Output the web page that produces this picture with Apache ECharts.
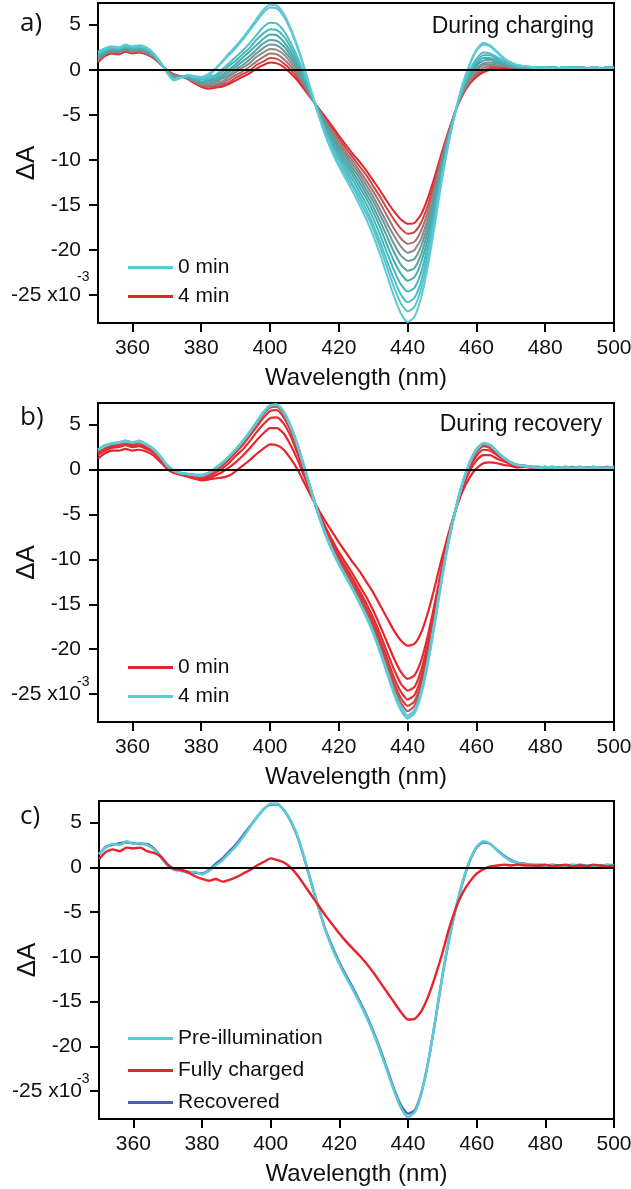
<!DOCTYPE html>
<html>
<head>
<meta charset="utf-8">
<script src="https://cdn.jsdelivr.net/npm/echarts@6/dist/echarts.min.js"></script>
<style>
  html, body { margin: 0; padding: 0; background: #fff; }
  #chart { width: 631px; height: 1189px; }
</style>
</head>
<body>
<div id="chart"></div>
<script>
// Wavelength grid (nm), shared by every spectrum
const wavelength = [350,352,354,356,358,360,362,364,366,368,370,372,374,376,378,380,382,384,386,388,
  390,392,394,396,398,400,402,404,406,408,410,412,414,416,418,420,422,424,426,428,
  430,432,434,436,438,440,442,444,446,448,450,452,454,456,458,460,462,464,466,468,
  470,472,474,476,478,480,482,484,486,488,490,492,494,496,498,500];

const xTicks = [360, 380, 400, 420, 440, 460, 480, 500];
const yTicks = [-25, -20, -15, -10, -5, 0, 5];

// a) difference spectra (x10^-3) recorded while charging, 0 min -> 4 min
const chg0 = [2.0,2.4,2.6,2.5,2.8,2.6,2.7,2.5,1.9,0.9, -0.3,-1.2,-0.9,-0.6,-0.7,-0.8,-0.5,0.1,0.9,1.8,
  2.6,3.5,4.5,5.6,6.6,7.2,7.1,6.2,4.6,2.6, 0.2,-2.4,-4.9,-7.2,-9.1,-10.7,-12.1,-13.5,-15.0,-16.6,
  -18.4,-20.5,-22.8,-25.1,-27.0,-28.0,-27.4,-25.2,-21.6,-17.0, -12.2,-8.0,-4.5,-1.6,0.6,2.2,3.0,2.7,2.0,1.3,
  0.8,0.5,0.4,0.3, 0.2,0.3,0.1,0.2,0.3,0.1,0.2,0.1,0.3,0.2,0.1,0.2];
const chg1 = [1.9,2.3,2.5,2.4,2.7,2.5,2.6,2.4,1.8,0.9, -0.3,-1.1,-0.9,-0.6,-0.8,-0.9,-0.7,0.0,0.8,1.6,
  2.4,3.3,4.3,5.3,6.3,6.9,6.8,5.9,4.4,2.4, 0.1,-2.4,-4.8,-7.0,-8.8,-10.3,-11.7,-13.0,-14.5,-16.0,
  -17.7,-19.7,-21.9,-24.1,-25.9,-26.8,-26.3,-24.2,-20.8,-16.4, -11.9,-7.9,-4.5,-1.7,0.5,2.1,2.8,2.6,1.9,1.2,
  0.8,0.5,0.4,0.3, 0.3,0.2,0.2,0.1,0.2,0.3,0.1,0.2,0.2,0.1,0.3,0.2];
const chg2 = [1.8,2.2,2.4,2.3,2.6,2.4,2.5,2.3,1.8,0.9, -0.2,-1.1,-0.9,-0.7,-0.9,-1.0,-0.8,-0.6,0.0,0.7,
  1.4,2.1,2.9,3.8,4.7,5.2,5.1,4.3,3.0,1.4, -0.6,-2.7,-4.8,-6.8,-8.5,-10.0,-11.3,-12.7,-14.0,-15.5,
  -17.2,-19.1,-21.2,-23.2,-24.9,-25.8,-25.3,-23.4,-20.1,-15.9, -11.6,-7.7,-4.5,-2.0,-0.1,1.2,1.9,1.8,1.4,1.0,
  0.6,0.4,0.3,0.2, 0.1,0.2,0.3,0.2,0.1,0.2,0.3,0.2,0.1,0.2,0.2,0.3];
const chg3 = [1.6,2.1,2.4,2.3,2.6,2.4,2.5,2.3,1.7,0.8, -0.2,-1.0,-0.8,-0.7,-1.0,-1.1,-1.0,-0.8,-0.3,0.4,
  1.0,1.7,2.4,3.3,4.0,4.5,4.4,3.7,2.5,1.0, -0.8,-2.7,-4.7,-6.6,-8.2,-9.6,-10.9,-12.2,-13.5,-14.9,
  -16.5,-18.3,-20.3,-22.2,-23.8,-24.6,-24.2,-22.4,-19.3,-15.4, -11.2,-7.6,-4.5,-2.1,-0.3,0.9,1.6,1.6,1.2,0.8,
  0.6,0.3,0.3,0.2, 0.2,0.3,0.1,0.2,0.3,0.1,0.2,0.1,0.3,0.2,0.1,0.2];
const chg4 = [1.5,2.0,2.3,2.2,2.5,2.3,2.4,2.2,1.6,0.8, -0.2,-0.9,-0.8,-0.8,-1.0,-1.3,-1.2,-1.0,-0.6,0.0,
  0.6,1.3,2.0,2.7,3.4,3.9,3.8,3.1,2.0,0.6, -1.1,-2.8,-4.6,-6.4,-7.9,-9.3,-10.5,-11.7,-13.0,-14.3,
  -15.8,-17.5,-19.4,-21.2,-22.6,-23.4,-23.0,-21.3,-18.5,-14.8, -10.9,-7.5,-4.5,-2.2,-0.5,0.6,1.3,1.3,1.0,0.7,
  0.5,0.3,0.3,0.2, 0.3,0.2,0.2,0.1,0.2,0.3,0.1,0.2,0.2,0.1,0.3,0.2];
const chg5 = [1.4,1.9,2.2,2.1,2.4,2.2,2.3,2.1,1.6,0.8, -0.1,-0.8,-0.8,-0.8,-1.1,-1.4,-1.3,-1.2,-0.8,-0.3,
  0.3,0.9,1.5,2.2,2.9,3.3,3.2,2.6,1.6,0.3, -1.3,-2.9,-4.5,-6.2,-7.6,-8.9,-10.1,-11.3,-12.5,-13.8,
  -15.2,-16.8,-18.5,-20.2,-21.6,-22.3,-22.0,-20.4,-17.7,-14.2, -10.6,-7.3,-4.5,-2.3,-0.7,0.4,1.0,1.1,0.8,0.6,
  0.4,0.3,0.3,0.2, 0.1,0.2,0.3,0.2,0.1,0.2,0.3,0.2,0.1,0.2,0.2,0.3];
const chg6 = [1.3,1.8,2.1,2.0,2.3,2.1,2.2,2.0,1.5,0.8, -0.1,-0.8,-0.8,-0.9,-1.2,-1.5,-1.5,-1.4,-1.0,-0.6,
  0.0,0.5,1.1,1.8,2.4,2.8,2.7,2.1,1.2,0.0, -1.5,-3.0,-4.5,-6.0,-7.3,-8.6,-9.7,-10.9,-12.0,-13.3,
  -14.6,-16.1,-17.7,-19.3,-20.6,-21.2,-21.0,-19.5,-17.0,-13.7, -10.3,-7.2,-4.5,-2.4,-0.9,0.1,0.7,0.8,0.7,0.5,
  0.4,0.2,0.3,0.2, 0.2,0.3,0.1,0.2,0.3,0.1,0.2,0.1,0.3,0.2,0.1,0.2];
const chg7 = [1.2,1.8,2.0,1.9,2.2,2.0,2.1,1.9,1.5,0.8, -0.1,-0.7,-0.8,-0.9,-1.3,-1.6,-1.6,-1.5,-1.3,-0.8,
  -0.3,0.2,0.7,1.4,1.9,2.3,2.2,1.7,0.8,-0.3, -1.7,-3.0,-4.4,-5.8,-7.0,-8.3,-9.4,-10.5,-11.6,-12.8,
  -14.1,-15.5,-17.0,-18.4,-19.6,-20.3,-20.0,-18.7,-16.3,-13.2, -10.0,-7.1,-4.5,-2.5,-1.1,-0.1,0.5,0.6,0.5,0.4,
  0.3,0.2,0.2,0.2, 0.3,0.2,0.2,0.1,0.2,0.3,0.1,0.2,0.2,0.1,0.3,0.2];
const chg8 = [1.0,1.7,2.0,1.9,2.2,2.0,2.1,1.9,1.4,0.7, -0.1,-0.6,-0.7,-0.9,-1.3,-1.7,-1.8,-1.7,-1.5,-1.1,
  -0.6,-0.2,0.3,0.9,1.4,1.8,1.7,1.2,0.4,-0.6, -1.8,-3.1,-4.3,-5.6,-6.8,-8.0,-9.1,-10.1,-11.2,-12.3,
  -13.5,-14.8,-16.2,-17.6,-18.7,-19.3,-19.1,-17.8,-15.6,-12.8, -9.7,-7.0,-4.5,-2.6,-1.3,-0.4,0.2,0.4,0.4,0.4,
  0.3,0.2,0.2,0.1, 0.1,0.2,0.3,0.2,0.1,0.2,0.3,0.2,0.1,0.2,0.2,0.3];
const chg9 = [0.9,1.6,1.9,1.8,2.1,1.9,2.0,1.8,1.4,0.7, 0.0,-0.6,-0.7,-1.0,-1.4,-1.8,-1.9,-1.9,-1.7,-1.4,
  -0.9,-0.5,-0.1,0.5,0.9,1.3,1.2,0.7,0.0,-0.9, -2.0,-3.1,-4.3,-5.4,-6.5,-7.6,-8.7,-9.7,-10.7,-11.7,
  -12.9,-14.1,-15.4,-16.6,-17.6,-18.2,-18.0,-16.9,-14.9,-12.2, -9.4,-6.8,-4.5,-2.7,-1.5,-0.6,-0.1,0.2,0.2,0.3,
  0.2,0.1,0.2,0.1, 0.2,0.3,0.1,0.2,0.3,0.1,0.2,0.1,0.3,0.2,0.1,0.2];
const chg10 = [0.8,1.5,1.8,1.7,2.0,1.8,1.9,1.7,1.3,0.7, 0.0,-0.5,-0.7,-1.0,-1.5,-1.9,-2.1,-2.0,-1.9,-1.6,
  -1.2,-0.8,-0.4,0.1,0.5,0.8,0.7,0.3,-0.4,-1.2, -2.2,-3.2,-4.2,-5.2,-6.2,-7.3,-8.3,-9.3,-10.2,-11.2,
  -12.3,-13.4,-14.6,-15.7,-16.6,-17.1,-17.0,-16.0,-14.1,-11.7, -9.1,-6.7,-4.5,-2.8,-1.6,-0.8,-0.3,0.0,0.1,0.2,
  0.2,0.1,0.2,0.1, 0.3,0.2,0.2,0.1,0.2,0.3,0.1,0.2,0.2,0.1,0.3,0.2];
const chargingTimes = ['0 min','0.4 min','0.8 min','1.2 min','1.6 min','2 min','2.4 min','2.8 min','3.2 min','3.6 min','4 min'];
const chargingColors = ['#5ccad6','#57c5cf','#4fbec5','#47b6bb','#43adaf','#52a3a4','#6b9797','#8b8a8a','#a67070','#c74848','#e8232b'];

// b) difference spectra recorded during recovery, 0 min -> 4 min
const rec0 = [1.2,1.8,2.1,2.1,2.3,2.1,2.2,2.0,1.6,0.9, 0.1,-0.4,-0.6,-0.8,-1.0,-1.1,-1.1,-1.0,-0.9,-0.7,
  -0.2,0.4,1.0,1.7,2.3,2.8,2.7,2.2,1.2,0.0, -1.5,-3.0,-4.4,-5.7,-6.9,-8.1,-9.2,-10.3,-11.3,-12.5,
  -13.7,-15.1,-16.5,-17.9,-19.0,-19.6,-19.4,-18.1,-15.8,-12.9, -9.8,-7.0,-4.5,-2.4,-0.9,0.1,0.7,0.8,0.7,0.5,
  0.4,0.2,0.3,0.2, 0.1,0.2,0.3,0.2,0.1,0.2,0.3,0.2,0.1,0.2,0.2,0.3];
const rec1 = [1.6,2.1,2.4,2.5,2.7,2.5,2.6,2.3,1.9,1.2, 0.3,-0.3,-0.5,-0.7,-1.0,-1.2,-1.1,-0.7,-0.3,0.2,
  0.8,1.5,2.3,3.2,4.0,4.6,4.6,4.0,2.7,1.1, -0.8,-2.7,-4.6,-6.3,-7.8,-9.2,-10.4,-11.6,-12.9,-14.2,
  -15.7,-17.4,-19.2,-21.0,-22.5,-23.3,-22.9,-21.2,-18.3,-14.7, -10.8,-7.3,-4.4,-2.0,-0.2,1.0,1.6,1.6,1.2,0.9,
  0.6,0.3,0.3,0.2, 0.2,0.3,0.1,0.2,0.3,0.1,0.2,0.1,0.3,0.2,0.1,0.2];
const rec2 = [1.8,2.3,2.6,2.6,2.8,2.6,2.7,2.5,2.0,1.3, 0.3,-0.2,-0.5,-0.6,-0.9,-1.1,-0.9,-0.4,0.1,0.7,
  1.5,2.2,3.1,4.1,5.0,5.7,5.8,5.1,3.7,1.8, -0.3,-2.6,-4.7,-6.6,-8.1,-9.6,-10.9,-12.1,-13.5,-14.9,
  -16.5,-18.3,-20.3,-22.2,-23.8,-24.6,-24.2,-22.3,-19.2,-15.3, -11.2,-7.5,-4.4,-1.8,0.2,1.5,2.2,2.1,1.6,1.1,
  0.7,0.4,0.4,0.3, 0.3,0.2,0.2,0.1,0.2,0.3,0.1,0.2,0.2,0.1,0.3,0.2];
const rec3 = [1.9,2.4,2.7,2.7,3.0,2.8,2.9,2.6,2.1,1.3, 0.4,-0.2,-0.5,-0.6,-0.8,-0.9,-0.7,-0.1,0.4,1.1,
  1.9,2.7,3.7,4.7,5.7,6.5,6.6,5.8,4.3,2.3, 0.0,-2.5,-4.8,-6.7,-8.4,-9.9,-11.2,-12.5,-13.9,-15.4,
  -17.0,-18.9,-21.0,-23.1,-24.7,-25.6,-25.1,-23.1,-19.9,-15.8, -11.4,-7.6,-4.4,-1.6,0.5,1.9,2.6,2.4,1.8,1.2,
  0.7,0.5,0.4,0.3, 0.1,0.2,0.3,0.2,0.1,0.2,0.3,0.2,0.1,0.2,0.2,0.3];
const rec4 = [2.0,2.5,2.8,2.8,3.1,2.9,3.0,2.7,2.2,1.4, 0.4,-0.2,-0.4,-0.6,-0.7,-0.8,-0.6,0.0,0.6,1.3,
  2.1,3.0,4.0,5.1,6.1,6.9,7.0,6.2,4.6,2.6, 0.1,-2.4,-4.8,-6.9,-8.6,-10.1,-11.4,-12.8,-14.2,-15.7,
  -17.4,-19.4,-21.6,-23.7,-25.4,-26.3,-25.8,-23.7,-20.4,-16.1, -11.6,-7.7,-4.4,-1.5,0.6,2.1,2.8,2.6,1.9,1.3,
  0.8,0.5,0.4,0.3, 0.2,0.3,0.1,0.2,0.3,0.1,0.2,0.1,0.3,0.2,0.1,0.2];
const rec5 = [2.1,2.6,2.8,2.9,3.2,3.0,3.0,2.8,2.3,1.5, 0.5,-0.1,-0.4,-0.5,-0.6,-0.7,-0.4,0.1,0.7,1.4,
  2.2,3.1,4.1,5.2,6.2,7.0,7.1,6.3,4.7,2.7, 0.2,-2.4,-4.9,-7.0,-8.8,-10.4,-11.7,-13.1,-14.6,-16.1,
  -17.8,-19.8,-22.0,-24.2,-25.9,-26.9,-26.3,-24.2,-20.8,-16.5, -11.8,-7.8,-4.4,-1.5,0.7,2.2,2.9,2.7,2.0,1.3,
  0.8,0.5,0.4,0.3, 0.3,0.2,0.2,0.1,0.2,0.3,0.1,0.2,0.2,0.1,0.3,0.2];
const rec6 = [2.2,2.7,2.9,3.0,3.1,3.0,3.2,2.8,2.3,1.5, 0.5,-0.1,-0.4,-0.5,-0.6,-0.6,-0.4,0.1,0.7,1.4,
  2.2,3.1,4.1,5.2,6.3,7.1,7.2,6.4,4.8,2.7, 0.2,-2.4,-4.9,-7.1,-8.9,-10.5,-11.9,-13.3,-14.8,-16.3,
  -18.1,-20.2,-22.4,-24.7,-26.4,-27.4,-26.8,-24.7,-21.1,-16.7, -12.0,-7.8,-4.4,-1.5,0.7,2.2,2.9,2.7,2.0,1.3,
  0.8,0.5,0.4,0.3, 0.1,0.2,0.3,0.2,0.1,0.2,0.3,0.2,0.1,0.2,0.2,0.3];
const rec7 = [2.2,2.6,2.9,3.0,3.2,3.0,3.1,2.8,2.3,1.5, 0.5,-0.1,-0.4,-0.5,-0.6,-0.7,-0.4,0.1,0.7,1.4,
  2.2,3.1,4.1,5.2,6.3,7.1,7.2,6.4,4.8,2.7, 0.2,-2.4,-4.9,-7.1,-8.9,-10.5,-11.9,-13.3,-14.8,-16.4,
  -18.2,-20.3,-22.6,-24.9,-26.7,-27.7,-27.1,-24.9,-21.3,-16.8, -12.0,-7.8,-4.4,-1.5,0.7,2.2,2.9,2.7,2.0,1.3,
  0.8,0.5,0.4,0.3, 0.2,0.3,0.1,0.2,0.3,0.1,0.2,0.1,0.3,0.2,0.1,0.2];
const recoveryTimes = ['0 min','0.5 min','1 min','1.5 min','2 min','2.5 min','3 min','4 min'];
const recoveryColors = ['#e8232b','#e6282e','#e22e33','#dc3538','#d24040','#b45a5a','#6cc2cc','#5ccad6'];

// c) comparison of the three states
const preIllumination = [1.5,2.2,2.6,2.5,2.9,2.6,2.7,2.5,2.0,1.1, 0.2,-0.3,-0.4,-0.6,-0.5,-0.8,-0.4,0.2,0.8,1.6,
  2.4,3.4,4.5,5.6,6.5,7.1,7.1,6.3,5.1,3.3, 0.8,-1.9,-4.6,-7.1,-9.1,-10.8,-12.3,-13.7,-15.2,-16.8,
  -18.6,-20.6,-22.8,-25.0,-26.9,-27.9,-27.3,-25.1,-21.5,-16.9, -12.1,-7.9,-4.4,-1.5,0.8,2.3,2.9,2.6,1.9,1.2,
  0.7,0.5,0.3,0.3, 0.3,0.2,0.2,0.1,0.2,0.3,0.1,0.2,0.2,0.1,0.3,0.2];
const fullyCharged = [0.9,1.7,2.0,1.8,2.2,2.1,2.2,1.8,1.6,1.2, 0.3,-0.2,-0.3,-0.6,-1.0,-1.3,-1.5,-1.3,-1.6,-1.4,
  -1.1,-0.7,-0.3,0.2,0.6,1.0,0.8,0.5,-0.1,-1.0, -2.1,-3.2,-4.3,-5.4,-6.4,-7.4,-8.3,-9.1,-9.9,-10.8,
  -11.8,-12.9,-14.0,-15.1,-16.2,-17.0,-16.9,-16.0,-14.3,-12.1, -9.6,-6.8,-4.5,-2.8,-1.6,-0.7,-0.2,0.1,0.2,0.3,
  0.2,0.3,0.2,0.2, 0.2,0.3,0.1,0.2,0.3,0.1,0.2,0.1,0.3,0.2,0.1,0.2];
const recovered = [1.4,2.3,2.5,2.7,2.8,2.7,2.6,2.6,2.1,1.2, 0.3,-0.2,-0.3,-0.5,-0.6,-0.7,-0.3,0.4,1.0,1.8,
  2.6,3.6,4.6,5.6,6.5,7.0,7.0,6.3,5.0,3.2, 0.7,-2.0,-4.6,-7.0,-8.9,-10.6,-12.1,-13.5,-15.0,-16.6,
  -18.4,-20.4,-22.6,-24.8,-26.6,-27.5,-27.1,-25.0,-21.5,-17.0, -12.2,-8.0,-4.5,-1.6,0.7,2.2,2.8,2.6,1.9,1.3,
  0.8,0.5,0.4,0.3, 0.1,0.2,0.3,0.2,0.1,0.2,0.3,0.2,0.1,0.2,0.2,0.3];

const FONT = '"Liberation Sans", Arial, sans-serif';
const INK = '#111';

const panels = [
  { top: 3,   height: 320 },
  { top: 403, height: 319 },
  { top: 801, height: 318 }
];

function spectrum(name, values, color, gi, width, extra) {
  return Object.assign({
    type: 'line', name: name, xAxisIndex: gi, yAxisIndex: gi,
    data: wavelength.map((w, i) => [w, values[i]]),
    symbol: 'none', showSymbol: false, smooth: 0.2,
    lineStyle: { color: color, width: width }, itemStyle: { color: color },
    emphasis: { disabled: true }, animation: false
  }, extra || {});
}

const zeroLine = {
  silent: true, symbol: 'none', animation: false,
  label: { show: false },
  lineStyle: { color: '#000', width: 2, type: 'solid' },
  data: [{ yAxis: 0 }]
};

const series = [];
const chargingData = [chg0, chg1, chg2, chg3, chg4, chg5, chg6, chg7, chg8, chg9, chg10];
// red (late) traces underneath, cyan (early) traces on top
for (let k = chargingData.length - 1; k >= 0; k--) {
  series.push(spectrum('charging ' + chargingTimes[k], chargingData[k], chargingColors[k], 0, 2,
    k === chargingData.length - 1 ? { markLine: zeroLine } : null));
}
const recoveryData = [rec0, rec1, rec2, rec3, rec4, rec5, rec6, rec7];
recoveryData.forEach((d, k) => {
  series.push(spectrum('recovery ' + recoveryTimes[k], d, recoveryColors[k], 1, k >= 6 ? 2.6 : 2.2,
    k === 0 ? { markLine: zeroLine } : null));
});
series.push(spectrum('Recovered', recovered, '#4a62b4', 2, 2.4, { markLine: zeroLine }));
series.push(spectrum('Pre-illumination', preIllumination, '#5ccad6', 2, 2.6));
series.push(spectrum('Fully charged', fullyCharged, '#e8232b', 2, 2.4));

const grids = panels.map((p, i) => ({
  left: i === 2 ? 99 : 98, top: p.top, width: i === 2 ? 515 : 516, height: p.height,
  containLabel: false, outerBoundsMode: 'none',
  show: true, borderColor: '#000', borderWidth: 2, backgroundColor: 'transparent'
}));

const xAxes = panels.map((p, i) => ({
  type: 'value', gridIndex: i, min: 350, max: 500,
  name: 'Wavelength (nm)', nameLocation: 'middle', nameGap: 43, nameMoveOverlap: false,
  nameTextStyle: { fontSize: 24, color: INK, fontFamily: FONT },
  axisLine: { show: true, onZero: false, lineStyle: { color: '#000', width: 2 } },
  axisTick: { show: true, length: 9, customValues: xTicks, lineStyle: { color: '#000', width: 2 } },
  axisLabel: { customValues: xTicks, fontSize: 21, color: INK, margin: 15, fontFamily: FONT },
  splitLine: { show: false }
}));

const yAxes = panels.map((p, i) => ({
  type: 'value', gridIndex: i, min: -28.1, max: 7.4,
  name: 'ΔA', nameLocation: 'middle', nameGap: 58, nameRotate: 90, nameMoveOverlap: false,
  nameTextStyle: { fontSize: 26, color: INK, fontFamily: FONT },
  axisLine: { show: true, onZero: false, lineStyle: { color: '#000', width: 2 } },
  axisTick: { show: true, length: 9, customValues: yTicks, lineStyle: { color: '#000', width: 2 } },
  axisLabel: {
    customValues: yTicks, fontSize: 21, color: INK, margin: 17, fontFamily: FONT,
    formatter: v => (v === -25 ? '-25 x10' : String(v))
  },
  splitLine: { show: false }
}));

const stripPrefix = n => n.replace(/^(charging|recovery) /, '');
const legendBase = {
  orient: 'vertical', icon: 'rect', itemWidth: 45, itemHeight: 3,
  textStyle: { fontSize: 21, lineHeight: 20, color: INK, fontFamily: FONT },
  selectedMode: false, formatter: stripPrefix
};

const option = {
  animation: false,
  backgroundColor: '#fff',
  grid: grids,
  xAxis: xAxes,
  yAxis: yAxes,
  legend: [
    Object.assign({}, legendBase, { left: 123, top: 252, itemGap: 8, data: ['charging 0 min', 'charging 4 min'] }),
    Object.assign({}, legendBase, { left: 123, top: 652, itemGap: 8, data: ['recovery 0 min', 'recovery 4 min'] }),
    Object.assign({}, legendBase, { left: 123, top: 1023, itemGap: 11, data: ['Pre-illumination', 'Fully charged', 'Recovered'] })
  ],
  title: [
    { text: 'a)', left: 15, top: 6, textStyle: { fontSize: 26, fontWeight: 'normal', color: INK, fontFamily: '"Open Sans", sans-serif' } },
    { text: 'b)', left: 15, top: 400, textStyle: { fontSize: 26, fontWeight: 'normal', color: INK, fontFamily: '"Open Sans", sans-serif' } },
    { text: 'c)', left: 15, top: 799, textStyle: { fontSize: 26, fontWeight: 'normal', color: INK, fontFamily: '"Open Sans", sans-serif' } },
    { text: 'During charging', right: 32, top: 10, textStyle: { fontSize: 23, fontWeight: 'normal', color: INK, fontFamily: FONT } },
    { text: 'During recovery', right: 24, top: 408, textStyle: { fontSize: 23, fontWeight: 'normal', color: INK, fontFamily: FONT } }
  ],
  graphic: [
    { type: 'text', left: 77, top: 270, silent: true, style: { text: '-3', fontSize: 14, fill: INK, fontFamily: FONT } },
    { type: 'text', left: 77, top: 675, silent: true, style: { text: '-3', fontSize: 14, fill: INK, fontFamily: FONT } },
    { type: 'text', left: 77, top: 1072, silent: true, style: { text: '-3', fontSize: 14, fill: INK, fontFamily: FONT } }
  ],
  series: series
};

const chart = echarts.init(document.getElementById('chart'), null, { renderer: 'canvas' });
chart.setOption(option);
</script>
</body>
</html>
